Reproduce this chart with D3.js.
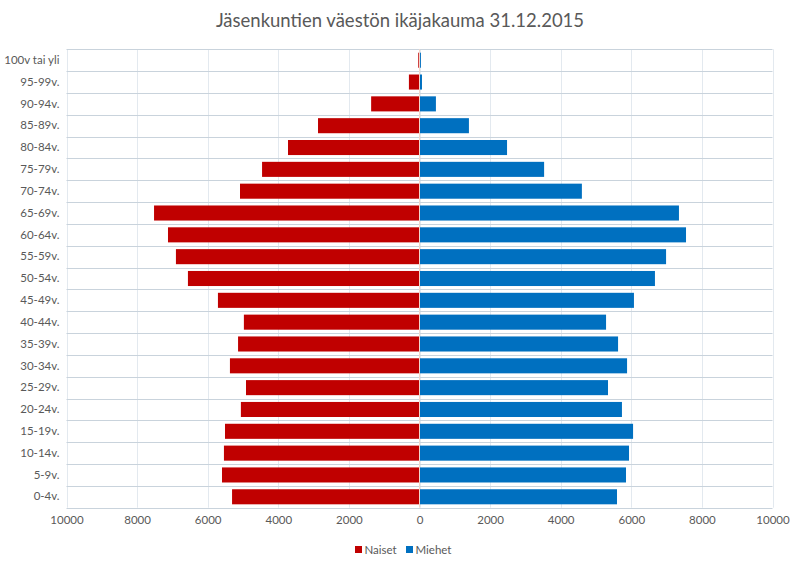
<!DOCTYPE html>
<html>
<head>
<meta charset="utf-8">
<script src="https://cdn.jsdelivr.net/npm/d3@7"></script>
<style>
  body { margin: 0; background: #fff; }
  svg { display: block; font-family: Lato, "Open Sans", sans-serif; }
</style>
</head>
<body>
<svg id="chart" width="801" height="568"></svg>
<script>
const categories = ["100v tai yli","95-99v.","90-94v.","85-89v.","80-84v.","75-79v.","70-74v.","65-69v.","60-64v.","55-59v.","50-54v.","45-49v.","40-44v.","35-39v.","30-34v.","25-29v.","20-24v.","15-19v.","10-14v.","5-9v.","0-4v."];
const naiset = [35,300,1370,2875,3725,4460,5085,7520,7125,6900,6560,5710,4975,5140,5370,4915,5060,5510,5540,5595,5310];
const miehet = [40,70,465,1400,2480,3530,4600,7350,7550,6985,6670,6075,5285,5625,5880,5340,5735,6050,5935,5850,5595];
const xTicks = [-10000,-8000,-6000,-4000,-2000,0,2000,4000,6000,8000,10000];
const seriesNames = ["Naiset","Miehet"];
const colors = {Naiset: "#C00000", Miehet: "#0070C0"};
const titleText = "Jäsenkuntien väestön ikäjakauma 31.12.2015";

const svg = d3.select("#chart");
const pLeft = 66.5, pRight = 772.5, pTop = 49.3, pBottom = 507.7;

const x = d3.scaleLinear().domain([-10000, 10000]).range([pLeft, pRight]);
const y = d3.scaleBand().domain(categories).range([pTop, pBottom]).paddingInner(0.31).paddingOuter(0.155);

// vertical gridlines
svg.append("g").selectAll("line").data(xTicks).join("line")
  .attr("x1", d => Math.round(x(d)) + 0.5).attr("x2", d => Math.round(x(d)) + 0.5)
  .attr("y1", pTop).attr("y2", pBottom)
  .attr("stroke", "#e3e9ef").attr("stroke-width", 1);

// horizontal gridlines at band boundaries
const step = (pBottom - pTop) / categories.length;
const hLines = d3.range(categories.length + 1).map(i => pTop + i * step);
svg.append("g").selectAll("line").data(hLines).join("line")
  .attr("x1", pLeft).attr("x2", pRight)
  .attr("y1", d => Math.round(d) + 0.5).attr("y2", d => Math.round(d) + 0.5)
  .attr("stroke", "#c9d3dc").attr("stroke-width", 1);

// bars
const rows = categories.map((c, i) => ({c, n: naiset[i], m: miehet[i]}));
svg.append("g").selectAll("rect").data(rows).join("rect")
  .attr("x", d => x(-d.n)).attr("width", d => x(0) - x(-d.n))
  .attr("y", d => y(d.c)).attr("height", y.bandwidth())
  .attr("fill", colors.Naiset);
svg.append("g").selectAll("rect").data(rows).join("rect")
  .attr("x", x(0) + 0.5).attr("width", d => Math.max(0, x(d.m) - x(0) - 0.5))
  .attr("y", d => y(d.c)).attr("height", y.bandwidth())
  .attr("fill", colors.Miehet);

// zero line
svg.append("line")
  .attr("x1", x(0)).attr("x2", x(0)).attr("y1", pTop).attr("y2", pBottom)
  .attr("stroke", "#f2d6cc").attr("stroke-width", 1);

// x axis labels
const xAxis = d3.axisBottom(x).tickValues(xTicks).tickSize(0).tickPadding(8).tickFormat(d => Math.abs(d));
const gx = svg.append("g").attr("transform", `translate(0,${pBottom})`).call(xAxis);
gx.select(".domain").remove();
gx.selectAll("text").attr("fill", "#595959").style("font-size", "11.5px").style("font-family", "Lato, 'Open Sans', sans-serif");

// y axis labels
const yAxis = d3.axisLeft(y).tickSize(0).tickPadding(7);
const gy = svg.append("g").attr("transform", `translate(${pLeft},0)`).call(yAxis);
gy.select(".domain").remove();
gy.selectAll("text").attr("fill", "#595959").style("font-size", "11.5px").style("font-family", "Lato, 'Open Sans', sans-serif");

// title
svg.append("text").attr("x", 400).attr("y", 27).attr("text-anchor", "middle")
  .attr("fill", "#595959").style("font-size", "18.5px").text(titleText);

// legend
const legendItems = [{name: seriesNames[0], x: 355}, {name: seriesNames[1], x: 406}];
const lg = svg.append("g");
legendItems.forEach(it => {
  lg.append("rect").attr("x", it.x).attr("y", 546).attr("width", 7).attr("height", 7).attr("fill", colors[it.name]);
  lg.append("text").attr("x", it.x + 9.5).attr("y", 553.5).attr("fill", "#595959")
    .style("font-size", "11.5px").text(it.name);
});
</script>
</body>
</html>
